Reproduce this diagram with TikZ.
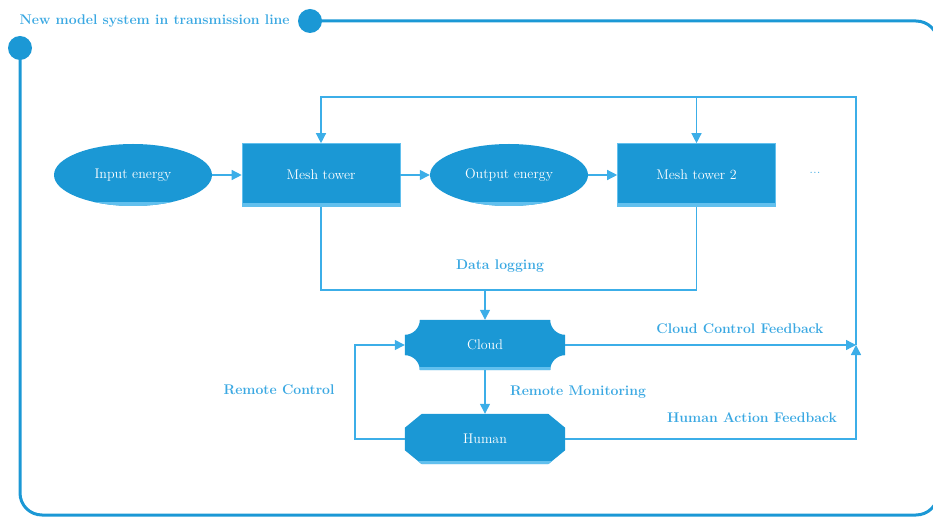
\documentclass[tikz,border=0pt]{standalone}
\usetikzlibrary{arrows.meta,shapes.geometric,calc}
\definecolor{mainblue}{HTML}{1B98D5}
\definecolor{lightblue}{HTML}{62C0EE}
\definecolor{linkblue}{HTML}{3CAEE8}
\definecolor{labelblue}{HTML}{3AA8E2}
\tikzset{
  x=1pt, y=1pt,
  nodefont/.style={font=\fontsize{14}{16}\selectfont},
  bandfill/.style={path picture={\fill[lightblue] (path picture bounding box.south west) rectangle ([yshift=3.5pt]path picture bounding box.south east);}},
  blockbox/.style={rectangle, fill=mainblue, draw=lightblue, line width=0.6pt, minimum width=158pt, minimum height=63pt, text=white, nodefont, bandfill},
  energy/.style={ellipse, fill=mainblue, draw=none, minimum width=158pt, minimum height=62pt, inner sep=0pt, text=white, nodefont, bandfill},
  holder/.style={rectangle, draw=none, minimum width=160pt, minimum height=50pt, inner sep=0pt},
  conn/.style={draw=linkblue, line width=1.3pt},
  tip/.style={-{Triangle[length=10pt,width=10pt]}},
  lbl/.style={text=labelblue, font=\fontsize{14}{16}\selectfont\bfseries},
}
\begin{document}
\begin{tikzpicture}
\useasboundingbox (0,0) rectangle (933,517);

% outer frame with its two end dots
\draw[mainblue, line width=3pt, rounded corners=22pt] (20,469) -- (20,2) -- (938,2) -- (938,496) -- (310,496);
\fill[mainblue] (310,496) circle (12pt);
\fill[mainblue] (20,469) circle (12pt);
\node[anchor=west, text=labelblue, font=\fontsize{14}{16}\selectfont\bfseries] (title) at (16,496) {New model system in transmission line};

% upper chain
\node[energy] (in) at (133,342) {Input energy};
\node[blockbox] (mt1) at (321,342) {Mesh tower};
\node[energy] (out) at (509,342) {Output energy};
\node[blockbox] (mt2) at (696.5,342) {Mesh tower 2};
\node[text=labelblue, font=\fontsize{15}{16}\selectfont] (dots) at (815,344) {...};

% cloud and human blocks
\node[holder] (cloud) at (485,172) {};
\node[holder] (human) at (485,78) {};

\def\cloudshape{%
  ($(cloud.north west)+(15,0)$) -- ($(cloud.north east)+(-15,0)$)
  arc[start angle=180, end angle=270, radius=15pt]
  -- ($(cloud.south east)+(0,15)$)
  arc[start angle=90, end angle=180, radius=15pt]
  -- ($(cloud.south west)+(15,0)$)
  arc[start angle=0, end angle=90, radius=15pt]
  -- ($(cloud.north west)+(0,-15)$)
  arc[start angle=270, end angle=360, radius=15pt] -- cycle}
\def\humanshape{%
  ($(human.north west)+(17,0)$) -- ($(human.north east)+(-17,0)$)
  -- ($(human.north east)+(0,-14)$) -- ($(human.south east)+(0,14)$)
  -- ($(human.south east)+(-17,0)$) -- ($(human.south west)+(17,0)$)
  -- ($(human.south west)+(0,14)$) -- ($(human.north west)+(0,-14)$) -- cycle}

\fill[mainblue] \cloudshape;
\begin{scope}
  \clip \cloudshape;
  \fill[lightblue] (cloud.south west) rectangle ([yshift=3.5pt]cloud.south east);
\end{scope}
\fill[mainblue] \humanshape;
\begin{scope}
  \clip \humanshape;
  \fill[lightblue] (human.south west) rectangle ([yshift=3.5pt]human.south east);
\end{scope}
\node[text=white, nodefont] at (cloud) {Cloud};
\node[text=white, nodefont] at (human) {Human};

% junction points
\coordinate (fb) at (856,172);
\coordinate (top) at (856,420);
\coordinate (dl) at (485,227);
\coordinate (rc) at (355,78);

% connectors
\draw[conn,tip] (in.east) -- (mt1.west);
\draw[conn,tip] (mt1.east) -- (out.west);
\draw[conn,tip] (out.east) -- (mt2.west);
\draw[conn,tip] (fb) -- (top) -- (top -| mt1) -- (mt1.north);
\draw[conn,tip] (top -| mt2) -- (mt2.north);
\draw[conn] (mt1.south) |- (dl) -| (mt2.south);
\draw[conn,tip] (dl) -- (cloud.north);
\draw[conn,tip] (cloud.south) -- (human.north);
\draw[conn,tip] (human.west) -- (rc) |- (cloud.west);
\draw[conn,tip] (cloud.east) -- (fb);
\draw[conn,tip] (human.east) -| (fb);

% connector labels
\node[lbl] (l1) at (500,251) {Data logging};
\node[lbl] (l2) at (740,188) {Cloud Control Feedback};
\node[lbl] (l3) at (578,125) {Remote Monitoring};
\node[lbl] (l4) at (752,99) {Human Action Feedback};
\node[lbl] (l5) at (279,127) {Remote Control};
\end{tikzpicture}
\end{document}
